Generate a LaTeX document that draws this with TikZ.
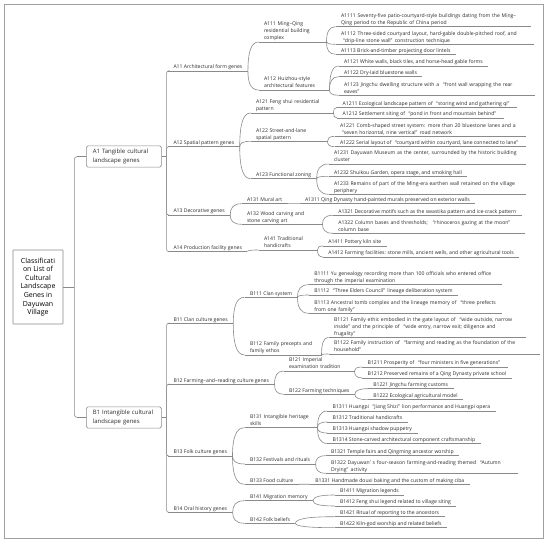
\documentclass[tikz,border=0pt]{standalone}
\usepackage{fontspec}
\setmainfont{Open Sans}
\usetikzlibrary{calc}
\definecolor{lncol}{HTML}{8A8A8A}
\definecolor{txcol}{HTML}{2B2B2B}
\definecolor{frcol}{HTML}{A0A0A0}
\newcommand{\myoq}{\hspace{0.45em}“}
\newcommand{\mycq}{”\hspace{0.45em}}
\newcommand{\topicnode}[5][]{%
  \node[topic,#1] (#2) at (#3,#4) {#5};
  \draw[ln] (#2.south west) -- (#2.south east);}
\begin{document}
\begin{tikzpicture}[x=1pt,y=-1pt,
  ln/.style={draw=lncol,line width=0.6pt},
  topic/.style={anchor=south west,inner xsep=5.5pt,inner ysep=1pt,outer sep=0pt,
     font=\fontsize{5.1}{7}\selectfont,align=left,text=txcol,
     execute at end node={\vphantom{g}}},
  curv/.style={to path={.. controls ($(\tikztostart)!0.6!(\tikztostart |- \tikztotarget)$) and ($(\tikztotarget)!0.75!(\tikztostart |- \tikztotarget)$) .. (\tikztotarget)}},
  box/.style={draw=lncol,line width=0.6pt,rounded corners=1.5pt,fill=white,text=txcol},
]
\fill[white] (0,0) rectangle (550,545);
\useasboundingbox (0,0) rectangle (550,545);
\draw[frcol,line width=0.8pt] (4.5,4.5) rectangle (543,538);

% root and first level
\node[box,rounded corners=0.5pt,minimum width=50pt,minimum height=74pt,inner sep=0pt,
  align=center,text=black,font=\fontsize{7}{8.6}\selectfont] (root) at (38,287)
  {Classificati\\on List of\\Cultural\\Landscape\\Genes in\\Dayuwan\\Village};
\node[box,anchor=west,text width=62pt,inner xsep=6.5pt,minimum height=21pt,align=left,
  font=\fontsize{6}{8.5}\selectfont] (A1) at (86,156.5) {A1 Tangible cultural\\landscape genes};
\node[box,anchor=west,text width=62pt,inner xsep=6.5pt,minimum height=21pt,align=left,
  font=\fontsize{6}{8.5}\selectfont] (B1) at (86,417.5) {B1 Intangible cultural\\landscape genes};

% level 2
\topicnode{A11}{168}{71}{A11 Architectural form genes}
\topicnode{A12}{168}{146.7}{A12 Spatial pattern genes}
\topicnode{A13}{168}{215}{A13 Decorative genes}
\topicnode{A14}{168}{251.5}{A14 Production facility genes}
\topicnode{B11}{168}{323.3}{B11 Clan culture genes}
\topicnode{B12}{168}{384.3}{B12 Farming–and–reading culture genes}
\topicnode{B13}{168}{456}{B13 Folk culture genes}
\topicnode{B14}{168}{512.3}{B14 Oral history genes}

% level 3
\topicnode[text width=57pt]{A111}{258.5}{42}{A111 Ming–Qing\\residential building\\complex}
\topicnode[text width=60pt]{A112}{258.5}{90}{A112 Huizhou-style\\architectural features}
\topicnode[text width=72pt]{A121}{250.5}{113}{A121 Feng shui residential\\pattern}
\topicnode[text width=66pt]{A122}{250.5}{141.3}{A122 Street-and-lane\\spatial pattern}
\topicnode{A123}{250.5}{178.7}{A123 Functional zoning}
\topicnode{A131}{241.5}{203.7}{A131 Mural art}
\topicnode[text width=70pt]{A132}{241.5}{224.3}{A132 Wood carving and\\stone carving art}
\topicnode[text width=48pt]{A141}{258.5}{250}{A141 Traditional\\handicrafts}
\topicnode{B111}{244.5}{297.3}{B111 Clan system}
\topicnode[text width=66pt]{B112}{244.5}{355}{B112 Family precepts and\\family ethos}
\topicnode[text width=60pt]{B121}{283.5}{371}{B121 Imperial\\examination tradition}
\topicnode{B122}{283.5}{394.3}{B122 Farming techniques}
\topicnode[text width=62pt]{B131}{244.5}{427.7}{B131 Intangible heritage\\skills}
\topicnode{B132}{244.5}{464}{B132 Festivals and rituals}
\topicnode{B133}{244.5}{484.3}{B133 Food culture}
\topicnode{B141}{244.5}{500.7}{B141 Migration memory}
\topicnode{B142}{244.5}{523.3}{B142 Folk beliefs}

% level 4
\topicnode[text width=184pt]{A1111}{335.5}{26.7}{A1111 Seventy-five patio-courtyard-style buildings dating from the Ming–\\Qing period to the Republic of China period}
\topicnode[text width=187pt]{A1112}{335.5}{44.3}{A1112 Three-sided courtyard layout, hard-gable double-pitched roof, and\\\myoq drip-line stone wall\mycq construction technique}
\topicnode{A1113}{335.5}{54.3}{A1113 Brick-and-timber projecting door lintels}
\topicnode{A1121}{338.5}{66}{A1121 White walls, black tiles, and horse-head gable forms}
\topicnode{A1122}{338.5}{76.7}{A1122 Dry-laid bluestone walls}
\topicnode[text width=185pt]{A1123}{338.5}{95.3}{A1123 Jingchu dwelling structure with a \myoq front wall wrapping the rear\\eaves\mycq}
\topicnode{A1211}{337.2}{107.3}{A1211 Ecological landscape pattern of \myoq storing wind and gathering qi\mycq}
\topicnode{A1212}{337.2}{118}{A1212 Settlement siting of \myoq pond in front and mountain behind\mycq}
\topicnode[text width=180pt]{A1221}{334.5}{136.3}{A1221 Comb-shaped street system: more than 20 bluestone lanes and a\\\myoq seven horizontal, nine vertical\mycq road network}
\topicnode{A1222}{334.5}{146.7}{A1222 Serial layout of \myoq courtyard within courtyard, lane connected to lane\mycq}
\topicnode[text width=186pt]{A1231}{328.5}{164}{A1231 Dayuwan Museum as the center, surrounded by the historic building\\cluster}
\topicnode{A1232}{328.5}{176.3}{A1232 Shuikou Garden, opera stage, and smoking hall}
\topicnode[text width=186pt]{A1233}{328.5}{194.3}{A1233 Remains of part of the Ming-era earthen wall retained on the village\\periphery}
\topicnode{A1311}{299.5}{203.7}{A1311 Qing Dynasty hand-painted murals preserved on exterior walls}
\topicnode{A1321}{332.8}{215.3}{A1321 Decorative motifs such as the swastika pattern and ice-crack pattern}
\topicnode[text width=181pt]{A1322}{332.8}{233.3}{A1322 Column bases and thresholds;\hspace{0.5em}\myoq rhinoceros gazing at the moon\mycq\\column base}
\topicnode{A1411}{322.8}{246}{A1411 Pottery kiln site}
\topicnode{A1412}{322.8}{257}{A1412 Farming facilities: stone mills, ancient wells, and other agricultural tools}
\topicnode[text width=182pt]{B1111}{308.8}{284.7}{B1111 Yu genealogy recording more than 100 officials who entered office\\through the imperial examination}
\topicnode{B1112}{308.8}{295}{B1112 \myoq Three Elders Council\mycq lineage deliberation system}
\topicnode[text width=182pt]{B1113}{308.8}{313.3}{B1113 Ancestral tomb complex and the lineage memory of \myoq three prefects\\from one family\mycq}
\topicnode[text width=186pt]{B1121}{328.5}{337.3}{B1121 Family ethic embodied in the gate layout of \myoq wide outside, narrow\\inside\mycq and the principle of \myoq wide entry, narrow exit; diligence and\\frugality\mycq}
\topicnode[text width=200pt]{B1122}{328.5}{354}{B1122 Family instruction of \myoq farming and reading as the foundation of the\\household\mycq}
\topicnode{B1211}{362.2}{367}{B1211 Prosperity of \myoq four ministers in five generations\mycq}
\topicnode{B1212}{362.2}{378}{B1212 Preserved remains of a Qing Dynasty private school}
\topicnode{B1221}{367.8}{388.7}{B1221 Jingchu farming customs}
\topicnode{B1222}{367.8}{399.7}{B1222 Ecological agricultural model}
\topicnode{B1311}{327.2}{411}{B1311 Huangpi \myoq Jiang Shizi\mycq lion performance and Huangpi opera}
\topicnode{B1312}{327.2}{422}{B1312 Traditional handicrafts}
\topicnode{B1313}{327.2}{433}{B1313 Huangpi shadow puppetry}
\topicnode{B1314}{327.2}{443.5}{B1314 Stone-carved architectural component craftsmanship}
\topicnode{B1321}{325.5}{455.7}{B1321 Temple fairs and Qingming ancestor worship}
\topicnode[text width=181pt]{B1322}{325.5}{473.3}{B1322 Dayuwan’\hspace{0.4em}s four-season farming-and-reading themed \myoq Autumn\\Drying\mycq activity}
\topicnode{B1331}{309.8}{484.3}{B1331 Handmade douxi baking and the custom of making ciba}
\topicnode{B1411}{334.5}{495}{B1411 Migration legends}
\topicnode{B1412}{334.5}{506}{B1412 Feng shui legend related to village siting}
\topicnode{B1421}{334.5}{516.7}{B1421 Ritual of reporting to the ancestors}
\topicnode{B1422}{334.5}{527.7}{B1422 Kiln-god worship and related beliefs}

% elbow connectors
\coordinate (jr) at ($(root.east)+(11,0)$);
\draw[ln] (root.east) -- (jr);
\draw[ln,rounded corners=3pt] (jr) |- (A1.west);
\draw[ln,rounded corners=3pt] (jr) |- (B1.west);
\coordinate (ja) at ($(A1.east)+(5,0)$);
\draw[ln] (A1.east) -- (ja);
\foreach \c in {A11,A12,A13,A14} \draw[ln,rounded corners=2pt] (ja) |- (\c.south west);
\coordinate (jb) at ($(B1.east)+(5,0)$);
\draw[ln] (B1.east) -- (jb);
\foreach \c in {B11,B12,B13,B14} \draw[ln,rounded corners=2pt] (jb) |- (\c.south west);

% curved connectors
\foreach \p/\c in {A11/A111,A11/A112,A12/A121,A12/A122,A12/A123,A13/A131,A13/A132,A14/A141,
  A111/A1111,A111/A1112,A111/A1113,A112/A1121,A112/A1122,A112/A1123,
  A121/A1211,A121/A1212,A122/A1221,A122/A1222,A123/A1231,A123/A1232,A123/A1233,
  A131/A1311,A132/A1321,A132/A1322,A141/A1411,A141/A1412,
  B11/B111,B11/B112,B12/B121,B12/B122,B13/B131,B13/B132,B13/B133,B14/B141,B14/B142,
  B111/B1111,B111/B1112,B111/B1113,B112/B1121,B112/B1122,B121/B1211,B121/B1212,
  B122/B1221,B122/B1222,B131/B1311,B131/B1312,B131/B1313,B131/B1314,
  B132/B1321,B132/B1322,B133/B1331,B141/B1411,B141/B1412,B142/B1421,B142/B1422}
  \draw[ln] (\p.south east) to[curv] (\c.south west);
\end{tikzpicture}
\end{document}
